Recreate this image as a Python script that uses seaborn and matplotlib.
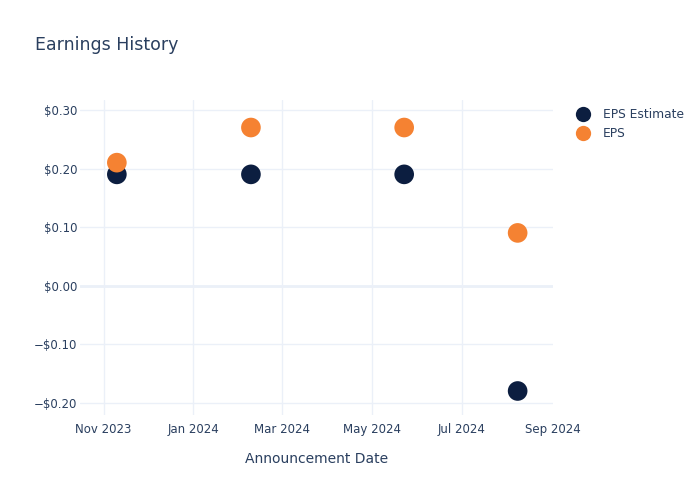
import matplotlib
matplotlib.use("Agg")
import matplotlib.pyplot as plt
import matplotlib.dates as mdates
import matplotlib.ticker as mticker
from matplotlib.lines import Line2D
import seaborn as sns
import pandas as pd

dates = ["2023-11-10", "2024-02-09", "2024-05-23", "2024-08-08"]
eps_estimate = [0.19, 0.19, 0.19, -0.18]
eps_actual = [0.21, 0.27, 0.27, 0.09]
series_names = ["EPS Estimate", "EPS"]
colors = ["#0c1e40", "#f58232"]
y_ticks = [-0.20, -0.10, 0.0, 0.10, 0.20, 0.30]

df = pd.DataFrame({
    "date": pd.to_datetime(dates * 2),
    "value": eps_estimate + eps_actual,
    "series": [series_names[0]] * len(dates) + [series_names[1]] * len(dates),
})

sns.set_style("white")
plt.rcParams['font.family'] = ['DejaVu Sans']
text_color = "#2a3f5f"
grid_color = "#ebf0f8"

fig = plt.figure(figsize=(7, 5), dpi=100)
ax = fig.add_axes([0.1143, 0.17, 0.6757, 0.63])

sns.scatterplot(data=df, x="date", y="value", hue="series", palette=colors,
                s=200, edgecolor="none", ax=ax, zorder=3, legend=False)

ax.set_xlim(pd.Timestamp("2023-10-16"), pd.Timestamp("2024-09-01"))
ax.set_ylim(-0.221, 0.317)
ax.xaxis.set_major_locator(mdates.MonthLocator(bymonth=[1, 3, 5, 7, 9, 11]))
ax.xaxis.set_major_formatter(mdates.DateFormatter("%b %Y"))
ax.set_yticks(y_ticks)
ax.yaxis.set_major_formatter(mticker.FuncFormatter(
    lambda v, p: ("\u2212$%.2f" % abs(v)) if v < -1e-9 else "$%.2f" % abs(v)))

ax.grid(True, color=grid_color, linewidth=1)
ax.axhline(0, color=grid_color, linewidth=2, zorder=1)
for s in ax.spines.values():
    s.set_visible(False)
ax.tick_params(axis="both", length=0, labelsize=8.5, colors=text_color)
ax.tick_params(axis="y", pad=2)
ax.tick_params(axis="x", pad=6)
ax.set_xlabel("Announcement Date", fontsize=10, color=text_color, labelpad=11)
ax.set_ylabel("")

# hide gridline sitting on the right edge (Sep 2024)
fig.canvas.draw()
for gl, tk in zip(ax.get_xgridlines(), ax.get_xticks()):
    if abs(tk - mdates.date2num(pd.Timestamp("2024-09-01"))) < 1:
        gl.set_visible(False)

fig.text(0.05, 0.9, "Earnings History", fontsize=12.5, color=text_color)

handles = [Line2D([], [], marker="o", linestyle="none", markersize=11,
                  markerfacecolor=c, markeredgecolor="none") for c in colors]
leg = ax.legend(handles, series_names, loc="upper left", bbox_to_anchor=(1.037, 0.99),
                frameon=False, fontsize=8.8, handletextpad=1.05, labelspacing=0.5,
                handlelength=1.2, borderaxespad=0)
for t in leg.get_texts():
    t.set_color(text_color)

fig.savefig("out.png", dpi=100)
